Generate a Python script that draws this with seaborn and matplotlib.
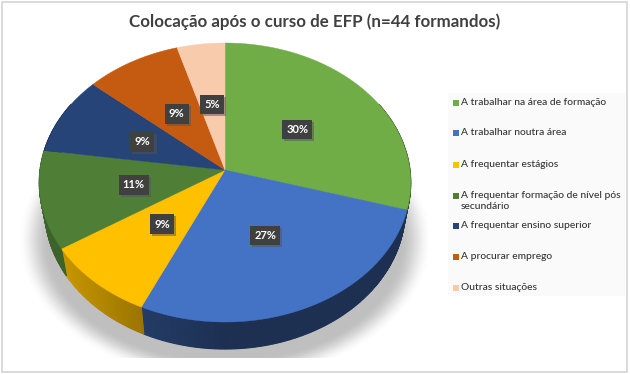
import numpy as np
import pandas as pd
import matplotlib
matplotlib.use("Agg")
import matplotlib.pyplot as plt
import matplotlib.patheffects as pe
import seaborn as sns

# Graduates per situation (n=44)
labels = [
    "A trabalhar na área de formação",
    "A trabalhar noutra área",
    "A frequentar estágios",
    "A frequentar formação de nível pós\nsecundário",
    "A frequentar ensino superior",
    "A procurar emprego",
    "Outras situações",
]
counts = [13, 12, 4, 5, 4, 4, 2]
colors = ["#70AD47", "#4472C4", "#FFC000", "#4F7F36", "#264478", "#C55A11", "#F8CBAD"]
title = "Colocação após o curso de EFP (n=44 formandos)"

sns.set_theme(style="white")
plt.rcParams["font.family"] = ["Lato", "DejaVu Sans"]

W, H = 630, 374
fig = plt.figure(figsize=(W / 100, H / 100), dpi=100, facecolor="white")
ax = fig.add_axes([0, 0, 1, 1])
ax.set_xlim(0, W)
ax.set_ylim(H, 0)
ax.axis("off")

# pie tilt, all in pixels
CX, CY = 225, 170
A, B, K = 185, 138.4, 0.0896
DEPTH = 27


def project(theta, r=1.0, drop=0.0, shrink=1.0):
    # theta clockwise from 12 o'clock, radians
    x = r * np.sin(theta)
    y = -r * np.cos(theta)
    d = 1 - K * y
    return CX + shrink * A * x / d, CY + B * y / d + drop


df = pd.DataFrame({"label": labels, "n": counts, "color": colors})
df["frac"] = df["n"] / df["n"].sum()
df["end"] = df["frac"].cumsum() * 2 * np.pi
df["start"] = df["end"] - df["frac"] * 2 * np.pi
df["mid"] = (df["start"] + df["end"]) / 2

# soft shadow under the pie: rings going from white to grey, cut flat at the bottom
ang = np.linspace(0, 2 * np.pi, 200)
for s in np.linspace(0, 1, 40):
    grey = 1 - 0.25 * s * s * (3 - 2 * s)
    size = 1 - 0.15 * s
    ax.fill(225 + 207 * size * np.cos(ang), np.minimum(240 + 141 * size * np.sin(ang), 358),
            color=(grey, grey, grey), lw=0, zorder=1)

# side wall, drawn in thin strips so it can shade left to right
for _, row in df.iterrows():
    base = np.array(matplotlib.colors.to_rgb(row["color"]))
    th = np.linspace(row["start"], row["end"], max(int((row["end"] - row["start"]) * 90), 2))
    for t0, t1 in zip(th[:-1], th[1:]):
        if np.cos((t0 + t1) / 2) > 0.5:
            continue
        x0, y0 = project(t0)
        x1, y1 = project(t1)
        x2, y2 = project(t1, drop=DEPTH, shrink=0.97)
        x3, y3 = project(t0, drop=DEPTH, shrink=0.97)
        shade = 0.42 + 0.1 * np.clip((225 - (x0 + x1) / 2) / 85, 0, 1)
        if row["color"] == "#FFC000":
            shade = 0.78 - 0.17 * (x0 - 61) / 80
        if row["color"] == "#4F7F36":
            shade = 0.78
        c = base * shade
        ax.fill([x0, x1, x2, x3], [y0, y1, y2, y3], fc=c, ec=c, lw=0.8, zorder=2)

# top face
for _, row in df.iterrows():
    th = np.linspace(row["start"], row["end"], 80)
    xs, ys = project(th)
    ax.fill(np.r_[CX, xs], np.r_[CY, ys], color=row["color"], lw=0.3, zorder=3)

# percentage labels
for _, row in df.iterrows():
    x, y = project(row["mid"], r=0.5)
    ax.text(x, y, f"{row['frac'] * 100:.0f}%", color="white", fontsize=8, fontweight="bold",
            ha="center", va="center", zorder=6,
            bbox=dict(boxstyle="square,pad=0.38", fc="#404040", ec="none",
                      path_effects=[pe.withSimplePatchShadow(offset=(1.5, -1.5), shadow_rgbFace="#555555", alpha=0.5)]))

ax.text(315, 22, title, fontsize=12.2, fontweight="bold", color="#404040", ha="center", va="center", zorder=6)

# legend panel
ax.add_patch(plt.Rectangle((448, 93), 177, 203, fc="#FAFAFA", ec="none", zorder=1.5))
legend_y = [103, 133, 165, 196, 226, 257, 288]
for lab, col, ly in zip(labels, colors, legend_y):
    ax.scatter([456], [ly], marker="s", s=24, color=col, linewidths=0, zorder=6)
    ax.text(461, ly - 5, lab, fontsize=7.35, fontweight="medium", color="#333333", ha="left", va="top",
            linespacing=1.28, zorder=6)

# image border
ax.add_patch(plt.Rectangle((2, 2), 625, 370, fc="none", ec="#D4D4D4", lw=1.2, zorder=7))

plt.savefig("out.png", dpi=100, facecolor="white")
